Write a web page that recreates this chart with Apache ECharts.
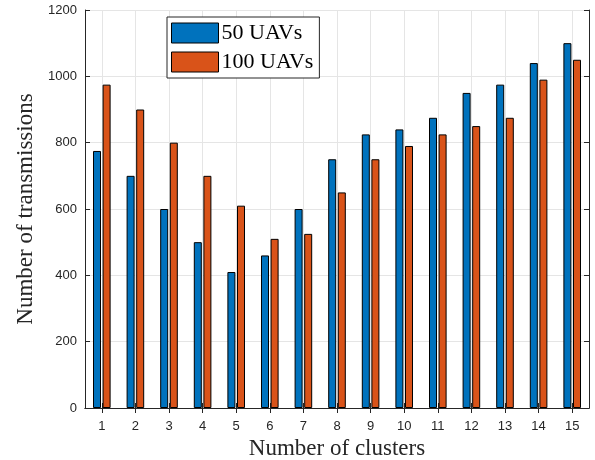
<!DOCTYPE html>
<html>
<head>
<meta charset="UTF-8">
<title>Number of transmissions</title>
<script type="text/javascript" src="https://cdn.jsdelivr.net/npm/echarts@6.0.0/dist/echarts.min.js"></script>
<style>
html, body { margin: 0; padding: 0; background: #fff; }
#chart { width: 595px; height: 460px; }
</style>
</head>
<body>
<div id="chart"></div>
<script type="text/javascript">
// data
var clusters = ["1", "2", "3", "4", "5", "6", "7", "8", "9", "10", "11", "12", "13", "14", "15"];
var uav50 = [775, 700, 600, 500, 410, 460, 600, 750, 825, 840, 875, 950, 975, 1040, 1100];
var uav100 = [975, 900, 800, 700, 610, 510, 525, 650, 750, 790, 825, 850, 875, 990, 1050];
var yTicks = [0, 200, 400, 600, 800, 1000, 1200];

var serif = "'Liberation Serif', 'DejaVu Serif', serif";
var sans = "'Liberation Sans', Arial, sans-serif";
var boxColor = "#262626";
var gridColor = "#e5e5e5";

var chart = echarts.init(document.getElementById("chart"));

var option = {
	animation: false,
	// fixed plot box, no auto shrink for labels
	grid: { left: 85, right: 6, top: 10, bottom: 52, containLabel: false, outerBoundsMode: "none" },
	legend: {
		orient: "vertical",
		left: 167,
		top: 17,
		padding: [5, 6, 5, 4],
		itemGap: 7,
		itemWidth: 47,
		itemHeight: 20,
		icon: "rect",
		backgroundColor: "#fff",
		borderColor: "#262626",
		borderWidth: 1,
		borderRadius: 0,
		textStyle: { fontFamily: serif, fontSize: 22, color: "#000", padding: [0, 0, 0, -2] },
		itemStyle: { borderColor: "#000", borderWidth: 1 },
		data: ["50 UAVs", "100 UAVs"]
	},
	xAxis: [
		{
			type: "category",
			data: clusters,
			name: "Number of clusters",
			nameLocation: "middle",
			nameGap: 25,
			nameTextStyle: { fontFamily: serif, fontSize: 23, color: "#262626" },
			axisLine: { show: true, lineStyle: { color: boxColor } },
			axisTick: { show: true, inside: true, alignWithLabel: true, length: 5, lineStyle: { color: boxColor } },
			axisLabel: { fontFamily: sans, fontSize: 13, color: "#262626", margin: 12 },
			splitLine: { show: true, alignWithLabel: true, lineStyle: { color: gridColor } }
		},
		{
			type: "category",
			data: clusters,
			position: "top",
			axisLine: { show: true, lineStyle: { color: boxColor } },
			axisTick: { show: true, inside: true, alignWithLabel: true, length: 5, lineStyle: { color: boxColor } },
			axisLabel: { show: false },
			splitLine: { show: false }
		}
	],
	yAxis: [
		{
			type: "value",
			min: yTicks[0],
			max: yTicks[yTicks.length - 1],
			interval: 200,
			name: "Number of transmissions",
			nameLocation: "middle",
			nameGap: 46,
			nameTextStyle: { fontFamily: serif, fontSize: 23, color: "#262626" },
			axisLine: { show: true, lineStyle: { color: boxColor } },
			axisTick: { show: true, inside: true, length: 5, lineStyle: { color: boxColor } },
			axisLabel: { fontFamily: sans, fontSize: 13, color: "#262626", margin: 8, formatter: function (v) { return String(v); } },
			splitLine: { show: true, lineStyle: { color: gridColor } }
		},
		{
			type: "value",
			position: "right",
			min: yTicks[0],
			max: yTicks[yTicks.length - 1],
			interval: 200,
			axisLine: { show: true, lineStyle: { color: boxColor } },
			axisTick: { show: true, inside: true, length: 5, lineStyle: { color: boxColor } },
			axisLabel: { show: false },
			splitLine: { show: false }
		}
	],
	series: [
		{
			name: "50 UAVs",
			type: "bar",
			data: uav50,
			barWidth: 8,
			barGap: "20%",
			itemStyle: { color: "#0072BD", borderColor: "#000", borderWidth: 1 }
		},
		{
			name: "100 UAVs",
			type: "bar",
			data: uav100,
			barWidth: 8,
			barGap: "20%",
			itemStyle: { color: "#D95319", borderColor: "#000", borderWidth: 1 }
		}
	]
};

chart.setOption(option);
</script>
</body>
</html>
